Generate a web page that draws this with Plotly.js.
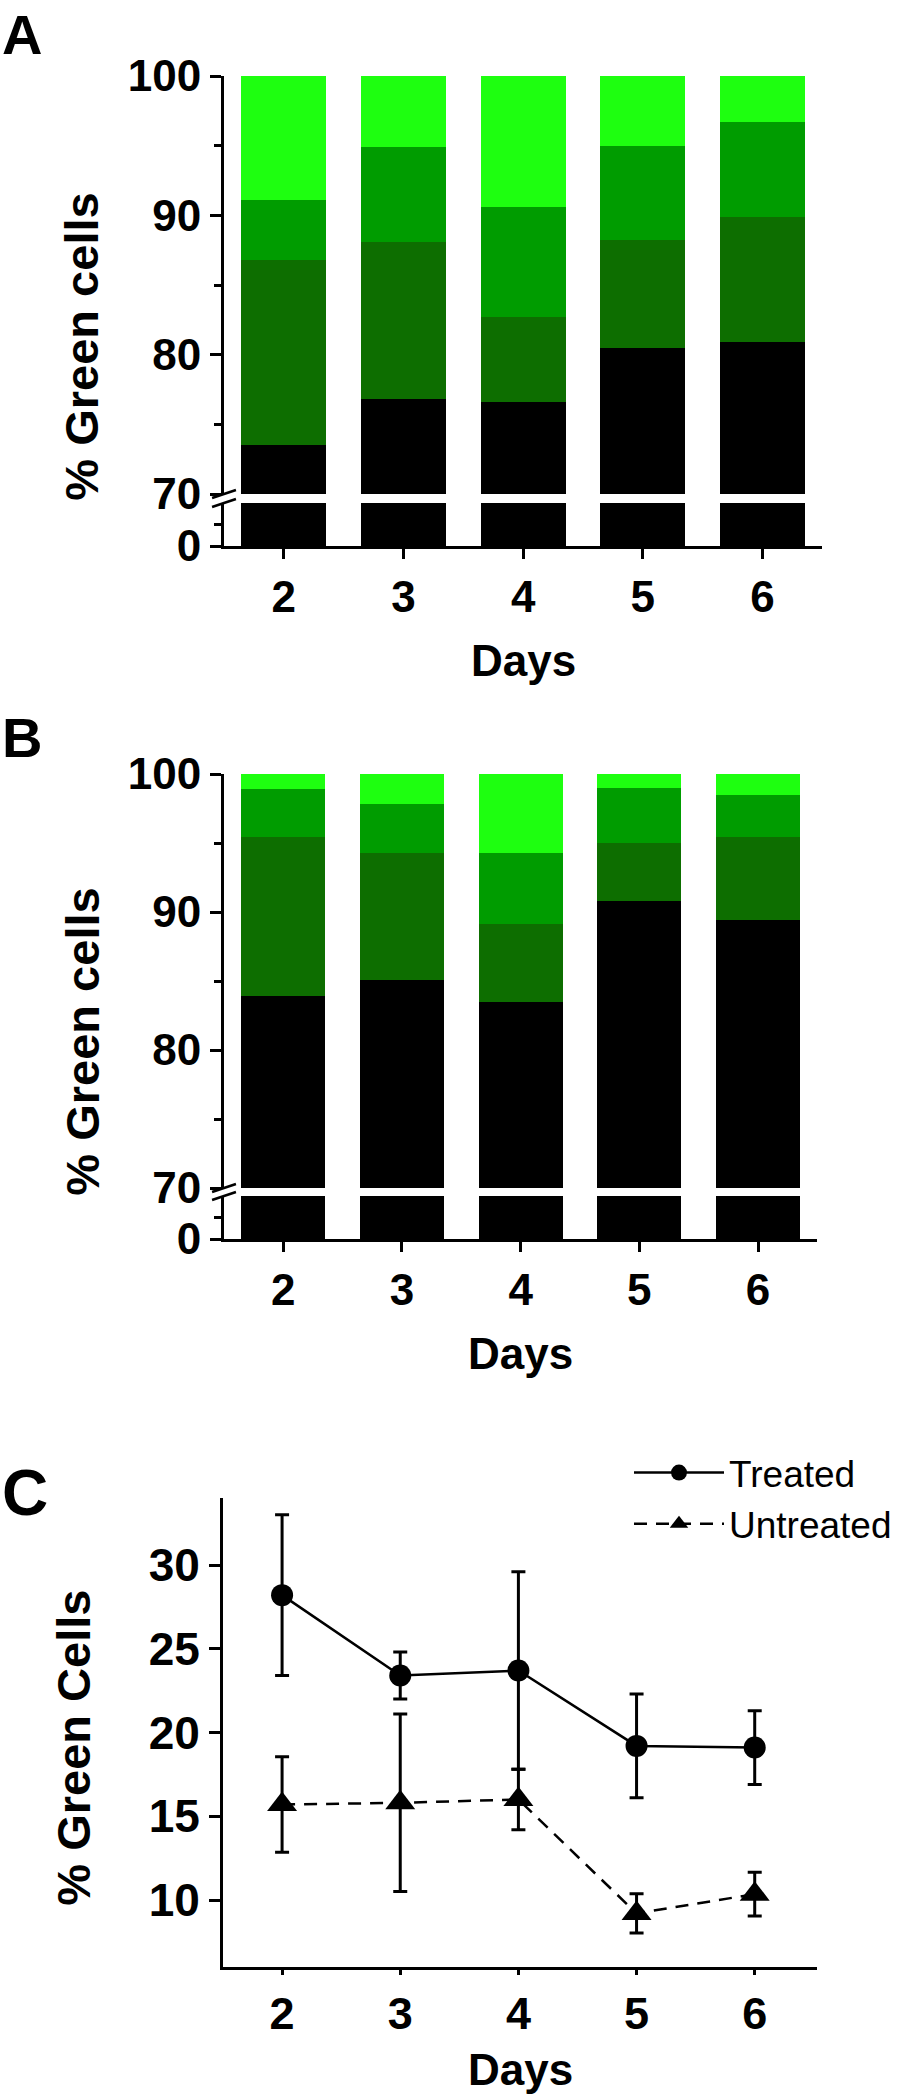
<!DOCTYPE html>
<html><head><meta charset="utf-8">
<script src="https://cdn.plot.ly/plotly-3.0.1.min.js"></script>
<style>html,body{margin:0;padding:0;background:#fff}#chart{width:897px;height:2100px}</style>
</head><body><div id="chart"></div>
<script>
// ---- data ----
const days = [2, 3, 4, 5, 6];
const dayLabels = ['2', '3', '4', '5', '6'];
// Panel A: stacked segment heights (% cells)
const aBlack = [73.5, 76.8, 76.6, 80.5, 80.9];
const aDark  = [13.3, 11.3, 6.1, 7.7, 9.0];
const aMid   = [4.3, 6.8, 7.9, 6.8, 6.8];
const aLight = [8.9, 5.1, 9.4, 5.0, 3.3];
// Panel B
const bBlack = [83.9, 85.1, 83.5, 90.8, 89.4];
const bDark  = [11.5, 9.2, 5.65, 4.2, 6.0];
const bMid   = [3.5, 3.5, 5.15, 3.95, 3.1];
const bLight = [1.1, 2.2, 5.7, 1.05, 1.5];
// Panel C
const treatedMean   = [28.2, 23.4, 23.7, 19.2, 19.1];
const treatedErr    = [4.8, 1.4, 5.9, 3.1, 2.2];
const untreatedMean = [15.7, 15.8, 16.0, 9.2, 10.35];
const untreatedErr  = [2.85, 5.3, 1.8, 1.17, 1.3];
const upperTicks = [70, 80, 90, 100];
const cTicks = [10, 15, 20, 25, 30];

// ---- styling ----
const FONT = 'Liberation Sans, Arial, Helvetica, sans-serif';
const segColors = ['#000000', '#0d6e00', '#009c00', '#1eff10'];
const W = 897, H = 2100;
const px = v => v / W;
const py = v => 1 - v / H;

function bar(y, color, xa, ya) {
  return {type: 'bar', x: days, y: y, width: 0.71, xaxis: xa, yaxis: ya,
    marker: {color: color, line: {width: 0}}, showlegend: false, hoverinfo: 'skip'};
}
const traces = [
  bar(aBlack, segColors[0], 'x', 'y'),
  bar(aDark, segColors[1], 'x', 'y'),
  bar(aMid, segColors[2], 'x', 'y'),
  bar(aLight, segColors[3], 'x', 'y'),
  bar(aBlack, segColors[0], 'x', 'y2'),
  bar(bBlack, segColors[0], 'x2', 'y3'),
  bar(bDark, segColors[1], 'x2', 'y3'),
  bar(bMid, segColors[2], 'x2', 'y3'),
  bar(bLight, segColors[3], 'x2', 'y3'),
  bar(bBlack, segColors[0], 'x2', 'y4'),
  {type: 'scatter', mode: 'lines+markers', name: 'Treated', x: days, y: treatedMean,
   xaxis: 'x3', yaxis: 'y5', line: {color: '#000', width: 2.5},
   marker: {symbol: 'circle', size: 22, color: '#000'},
   error_y: {type: 'data', array: treatedErr, visible: true, color: '#000', thickness: 3, width: 7}},
  {type: 'scatter', mode: 'lines+markers', name: 'Untreated', x: days, y: untreatedMean,
   xaxis: 'x3', yaxis: 'y5', line: {color: '#000', width: 2.5, dash: '13px,9px'},
   marker: {symbol: 'triangle-up', size: 26, color: '#000'},
   error_y: {type: 'data', array: untreatedErr, visible: true, color: '#000', thickness: 3, width: 7}}
];

const tickFont = s => ({family: FONT, size: s, color: '#000', weight: 700});
function axBase(extra) {
  return Object.assign({showline: true, linewidth: 3, linecolor: '#000', ticks: 'outside',
    tickwidth: 3, tickcolor: '#000', showgrid: false, zeroline: false, fixedrange: true}, extra);
}
const minorStyle = {ticks: 'outside', ticklen: 7, tickwidth: 3, tickcolor: '#000', showgrid: false};

function ann(text, x, y, size, opt) {
  return Object.assign({text: text, x: px(x), y: py(y), xref: 'paper', yref: 'paper',
    showarrow: false, xanchor: 'center', yanchor: 'middle',
    font: {family: FONT, size: size, color: '#000', weight: 700}}, opt || {});
}
function breakMarks(yTop, yBot) {
  const s = [];
  [yTop, yBot].forEach(yc => s.push({type: 'line', xref: 'paper', yref: 'paper',
    x0: px(213), y0: py(yc + 4), x1: px(237), y1: py(yc - 4),
    line: {color: '#000', width: 2.5}}));
  return s;
}

const layout = {
  width: W, height: H, margin: {l: 0, r: 0, t: 0, b: 0},
  paper_bgcolor: '#fff', plot_bgcolor: 'rgba(0,0,0,0)',
  barmode: 'stack', showlegend: true,
  font: {family: FONT, color: '#000'},
  xaxis: axBase({domain: [px(225), px(826)], range: [1.5, 6.5], anchor: 'y2',
    tickvals: days, ticktext: dayLabels, ticklen: 10, tickfont: tickFont(44)}),
  yaxis: axBase({domain: [py(494), py(76)], range: [70, 100], anchor: 'x',
    tickvals: upperTicks, ticklen: 11, tickfont: tickFont(44),
    minor: Object.assign({dtick: 5, tick0: 0}, minorStyle)}),
  yaxis2: axBase({domain: [py(546), py(503)], range: [0, 2], anchor: 'x',
    tickvals: [0], ticklen: 11, tickfont: tickFont(44),
    minor: Object.assign({tickmode: 'array', tickvals: [1]}, minorStyle)}),
  xaxis2: axBase({domain: [px(225), px(821)], range: [1.5, 6.5], anchor: 'y4',
    tickvals: days, ticktext: dayLabels, ticklen: 10, tickfont: tickFont(44)}),
  yaxis3: axBase({domain: [py(1188), py(774)], range: [70, 100], anchor: 'x2',
    tickvals: upperTicks, ticklen: 11, tickfont: tickFont(44),
    minor: Object.assign({dtick: 5, tick0: 0}, minorStyle)}),
  yaxis4: axBase({domain: [py(1239), py(1196)], range: [0, 2], anchor: 'x2',
    tickvals: [0], ticklen: 11, tickfont: tickFont(44),
    minor: Object.assign({tickmode: 'array', tickvals: [1]}, minorStyle)}),
  xaxis3: axBase({domain: [px(224), px(821)], range: [1.5, 6.53], anchor: 'y5',
    tickvals: days, ticktext: dayLabels, ticklen: 5, tickfont: tickFont(45)}),
  yaxis5: axBase({domain: [py(1967), py(1498)], range: [6, 34], anchor: 'x3',
    tickvals: cTicks, ticklen: 11, tickfont: tickFont(46)}),
  legend: {x: px(632), y: py(1442), xanchor: 'left', yanchor: 'top', traceorder: 'normal',
    font: {family: FONT, size: 37, color: '#000'}, bgcolor: 'rgba(0,0,0,0)',
    itemwidth: 90, tracegroupgap: 0},
  shapes: [].concat(breakMarks(494, 503), breakMarks(1188, 1196)),
  annotations: [
    ann('A', 0, 1, 56, {xanchor: 'left', yanchor: 'top'}),
    ann('B', 0, 704, 56, {xanchor: 'left', yanchor: 'top'}),
    ann('C', 0, 1455, 64, {xanchor: 'left', yanchor: 'top'}),
    ann('% Green cells', 82, 347, 47, {textangle: -90}),
    ann('% Green cells', 82, 1042, 47, {textangle: -90}),
    ann('% Green Cells', 73, 1748, 47, {textangle: -90}),
    ann('Days', 526, 660, 44),
    ann('Days', 523, 1353, 44),
    ann('Days', 523, 2069, 44)
  ]
};

Plotly.newPlot('chart', traces, layout, {displayModeBar: false, staticPlot: true});
</script>
</body></html>
